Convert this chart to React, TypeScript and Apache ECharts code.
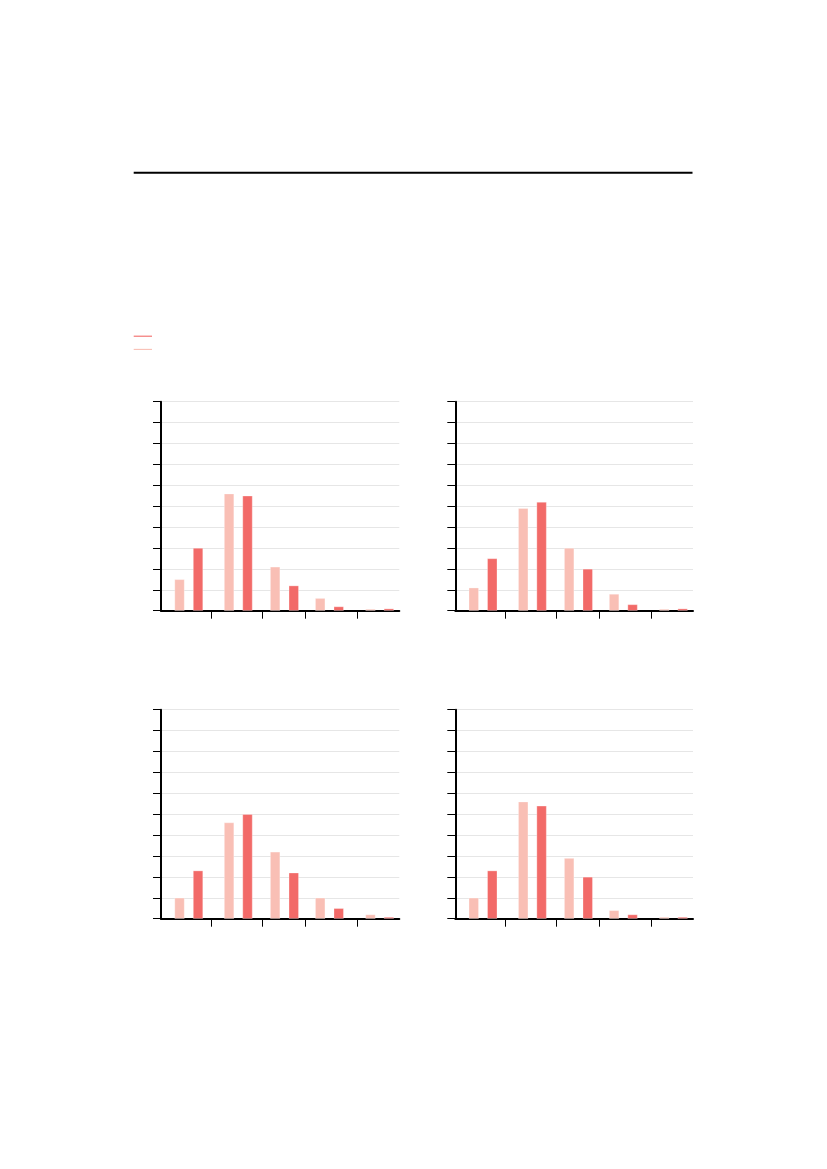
import { useEffect, useRef } from 'react';
import * as echarts from 'echarts';

// bar positions along each panel's x axis (axis runs 0..238)
const pinkX = [18.5, 68, 114, 159, 209.2];
const redX = [37, 86.4, 132.6, 177.5, 227.6];
const tickX = [50.3, 101.5, 143.8, 195.8];

// panel values: top-left, top-right, bottom-left, bottom-right
const pinkTL = [1.5, 5.6, 2.1, 0.6, 0.08];
const redTL = [3.0, 5.5, 1.2, 0.2, 0.1];
const pinkTR = [1.1, 4.9, 3.0, 0.8, 0.08];
const redTR = [2.5, 5.2, 2.0, 0.3, 0.1];
const pinkBL = [1.0, 4.6, 3.2, 1.0, 0.2];
const redBL = [2.3, 5.0, 2.2, 0.5, 0.08];
const pinkBR = [1.0, 5.6, 2.9, 0.4, 0.08];
const redBR = [2.3, 5.4, 2.0, 0.2, 0.08];

const PINK = '#f9bfb5';
const RED = '#f26a68';

const panels = [
  { left: 161, top: 401.7, width: 238.3, pink: pinkTL, red: redTL },
  { left: 455.3, top: 401.7, width: 237.7, pink: pinkTR, red: redTR },
  { left: 161, top: 709.7, width: 238.3, pink: pinkBL, red: redBL },
  { left: 455.3, top: 709.7, width: 237.7, pink: pinkBR, red: redBR },
];

export default function App() {
  const ref = useRef<HTMLDivElement>(null);

  useEffect(() => {
    if (!ref.current) return;
    const chart = echarts.init(ref.current, null, { renderer: 'svg' });

    const grid = panels.map((p) => ({ left: p.left, top: p.top, width: p.width, height: 209 }));
    const xAxis = panels.map((_, i) => ({
      type: 'value',
      gridIndex: i,
      min: 0,
      max: 238,
      axisLine: { show: true, onZero: false, lineStyle: { color: '#000', width: 2 } },
      axisTick: { show: true, length: 8, customValues: tickX, lineStyle: { color: '#000', width: 1 } },
      axisLabel: { show: false },
      splitLine: { show: false },
    }));
    const yAxis = panels.map((_, i) => ({
      type: 'value',
      gridIndex: i,
      min: 0,
      max: 10,
      interval: 1,
      axisLine: { show: true, lineStyle: { color: '#000', width: 2 } },
      axisTick: { show: true, length: 8, lineStyle: { color: '#000', width: 1 } },
      axisLabel: { show: false },
      splitLine: { show: true, lineStyle: { color: '#e6e6e6', width: 1 } },
    }));

    const series: any[] = [];
    panels.forEach((p, i) => {
      series.push({
        type: 'bar',
        xAxisIndex: i,
        yAxisIndex: i,
        barWidth: 10,
        barGap: '-100%',
        data: p.pink.map((v, j) => [pinkX[j], v]),
        itemStyle: { color: PINK, borderColor: 'rgba(255,255,255,0.6)', borderWidth: 0.5 },
      });
      series.push({
        type: 'bar',
        xAxisIndex: i,
        yAxisIndex: i,
        barWidth: 10,
        barGap: '-100%',
        data: p.red.map((v, j) => [redX[j], v]),
        itemStyle: { color: RED, borderColor: 'rgba(255,255,255,0.6)', borderWidth: 0.5 },
      });
    });

    chart.setOption({
      animation: false,
      grid,
      xAxis,
      yAxis,
      series,
      graphic: [
        { type: 'line', shape: { x1: 133.7, y1: 172.7, x2: 692.5, y2: 172.7 }, style: { stroke: '#000', lineWidth: 2 } },
        { type: 'line', shape: { x1: 133.7, y1: 336.2, x2: 152, y2: 336.2 }, style: { stroke: RED, lineWidth: 1.1 } },
        { type: 'line', shape: { x1: 133.7, y1: 349.4, x2: 152, y2: 349.4 }, style: { stroke: PINK, lineWidth: 1.1 } },
      ],
    });

    return () => {
      chart.dispose();
    };
  }, []);

  return <div ref={ref} style={{ position: 'absolute', left: 0, top: 0, width: 827, height: 1169 }} />;
}
